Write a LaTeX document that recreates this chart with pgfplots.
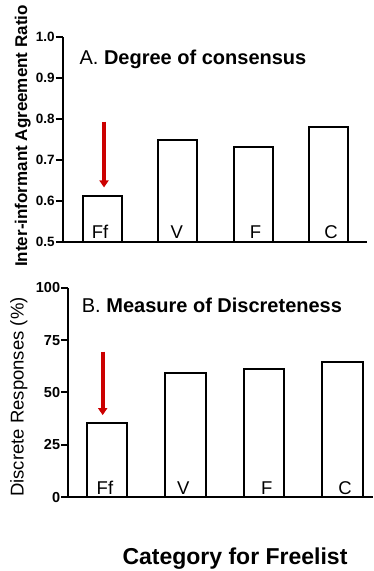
\documentclass[border=0pt]{standalone}
\usepackage{pgfplots}
\pgfplotsset{compat=1.18}
\usepackage{fontspec}
\setmainfont{Liberation Sans}
\usetikzlibrary{arrows.meta}
\definecolor{arrowred}{HTML}{CC0000}
\pgfplotsset{
  panel/.style={
    scale only axis,
    axis on top=true,
    axis lines=left,
    axis line style={line width=2pt, -},
    xtick=\empty,
    ytick pos=left,
    tick align=outside,
    major tick length=7pt,
    every tick/.style={black, line width=2pt},
    /pgf/number format/assume math mode=true,
    yticklabel style={font=\bfseries\fontsize{13.5}{15}\selectfont, inner sep=1pt},
    clip=false,
  },
  catlabels/.style={only marks, mark=none, forget plot,
    point meta=explicit symbolic, nodes near coords,
    nodes near coords style={font=\fontsize{18.5}{20}\selectfont, anchor=base, inner sep=0pt, yshift=#1}},
  bars/.style={ybar, bar shift=0pt, draw=black, fill=white, line width=2pt, bar width=#1},
  tk/.style={black, line width=2pt, mark=none, forget plot},
}
\begin{document}
\begin{tikzpicture}
\useasboundingbox (0pt,0pt) rectangle (373pt,571pt);
% Panel A
\begin{axis}[panel,
  at={(62.8pt,329.1pt)}, anchor=south west,
  width=303.9pt, height=204.7pt,
  xmin=-0.522, xmax=3.503, ymin=0.5, ymax=1.0,
  ytick={0.5,0.6,0.7,0.8,0.9,1.0},
  yticklabel style={/pgf/number format/.cd, fixed, fixed zerofill, precision=1},
]
\addplot[bars=39pt] coordinates {(0,0.611) (1,0.748) (2,0.732) (3,0.781)};
\addplot[catlabels=3.5pt] coordinates {(-0.029,0.5)[Ff] (0.987,0.5)[V] (2.03,0.5)[F] (3.03,0.5)[C]};
\addplot[arrowred, line width=4pt, -{Triangle[length=7pt,width=9pt]}, forget plot, mark=none] coordinates {(0.024,0.794) (0.024,0.633)};
\addplot[tk] coordinates {(-0.6147,0.5) (-0.522,0.5)};
\addplot[tk] coordinates {(-0.6147,0.6) (-0.522,0.6)};
\addplot[tk] coordinates {(-0.6147,0.7) (-0.522,0.7)};
\addplot[tk] coordinates {(-0.6147,0.8) (-0.522,0.8)};
\addplot[tk] coordinates {(-0.6147,0.9) (-0.522,0.9)};
\addplot[tk] coordinates {(-0.6147,1.0) (-0.522,1.0)};
\end{axis}
% Panel B
\begin{axis}[panel,
  at={(68.3pt,73.7pt)}, anchor=south west,
  width=304.7pt, height=209.6pt,
  xmin=-0.49, xmax=3.391, ymin=0, ymax=100,
  ytick={0,25,50,75,100},
  yticklabel style={font=\bfseries\fontsize{14.5}{16}\selectfont},
]
\addplot[bars=40.5pt] coordinates {(0,35.3) (1,59.2) (2,61.2) (3,64.7)};
\addplot[catlabels=2.5pt] coordinates {(-0.023,0)[Ff] (0.975,0)[V] (2.037,0)[F] (3.034,0)[C]};
\addplot[arrowred, line width=4pt, -{Triangle[length=7pt,width=9pt]}, forget plot, mark=none] coordinates {(-0.052,69.5) (-0.052,39.2)};
\addplot[tk] coordinates {(-0.5792,0) (-0.49,0)};
\addplot[tk] coordinates {(-0.5792,25) (-0.49,25)};
\addplot[tk] coordinates {(-0.5792,50) (-0.49,50)};
\addplot[tk] coordinates {(-0.5792,75) (-0.49,75)};
\addplot[tk] coordinates {(-0.5792,100) (-0.49,100)};
\end{axis}
% Titles and labels
\node[anchor=base west, inner sep=0pt, font=\fontsize{20}{22}\selectfont] at (79.4pt,506.8pt) {A. \textbf{Degree of consensus}};
\node[anchor=base west, inner sep=0pt, font=\fontsize{20}{22}\selectfont] at (81.7pt,258.7pt) {B. \textbf{Measure of Discreteness}};
\node[rotate=90, anchor=base, inner sep=0pt, font=\bfseries\fontsize{17}{18}\selectfont] at (27pt,435pt) {Inter-informant Agreement Ratio};
\node[rotate=90, anchor=base, inner sep=0pt, font=\fontsize{18.5}{20}\selectfont] at (23.5pt,174pt) {Discrete Responses (\%)};
\node[anchor=base, inner sep=0pt, font=\bfseries\fontsize{23}{25}\selectfont] at (235pt,6pt) {Category for Freelist};
\end{tikzpicture}
\end{document}
